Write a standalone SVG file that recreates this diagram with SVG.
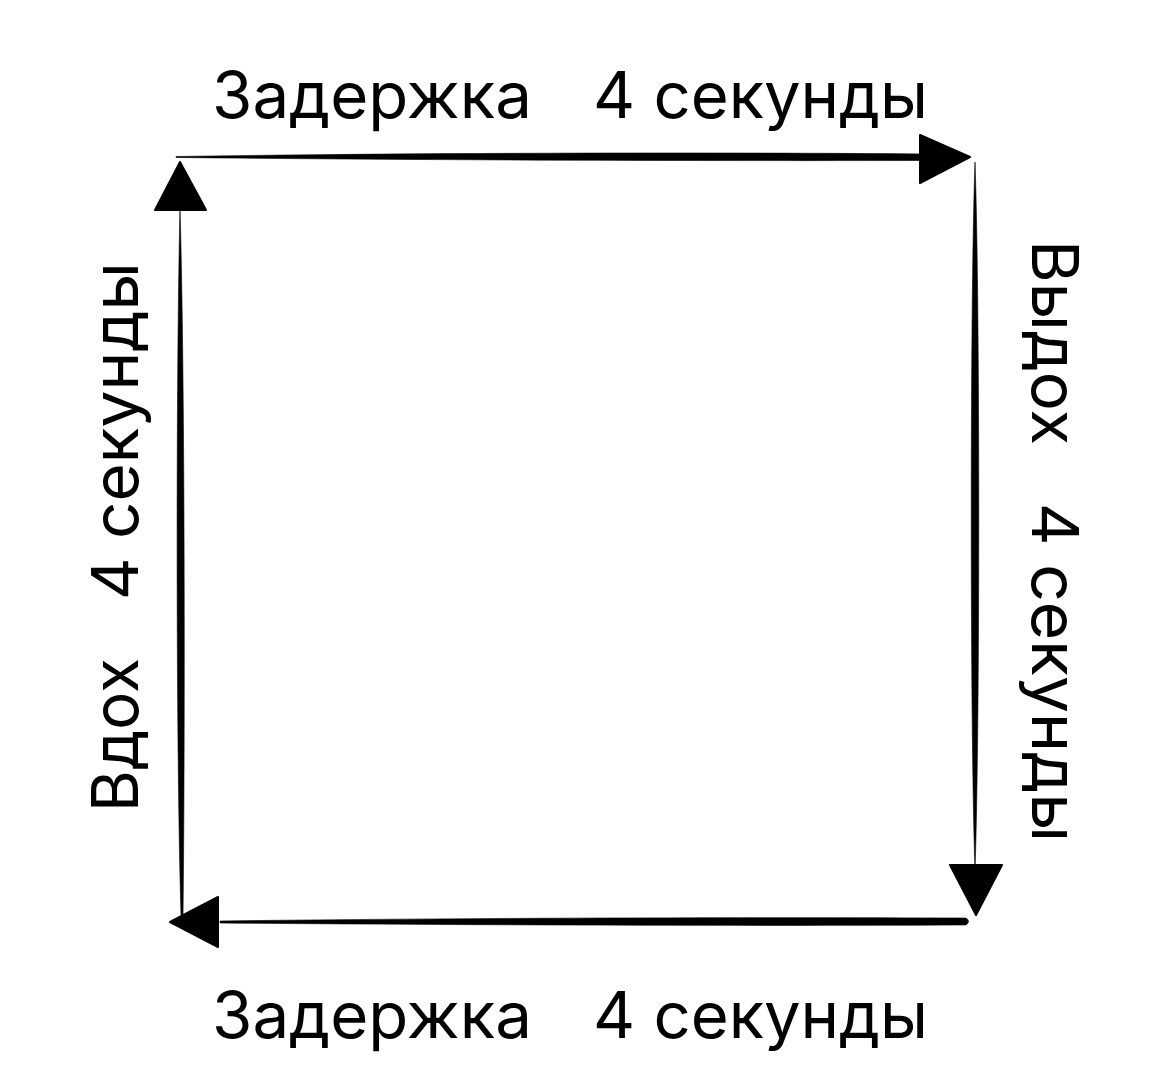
<svg xmlns="http://www.w3.org/2000/svg" width="1170" height="1088" viewBox="0 0 1170 1088">
  <style>
    .stroke { fill: #000; stroke: #000; stroke-width: 0.6; stroke-linejoin: round; }
    .head { fill: #000; stroke: #000; stroke-width: 2; stroke-linejoin: round; }
    .label { font-family: Inter, "Liberation Sans", "Noto Sans", sans-serif; font-size: 64px; fill: #000; }
  </style>
  <rect x="0" y="0" width="1170" height="1088" fill="#fff"/>
  <g id="connectors">
    <g id="edge-top">
      <path class="stroke" d="M176,156.5 C400,153 700,152 925,154 L925,160.5 C700,161 400,160 176,157.5 Z"/>
      <polygon class="head" points="920,135 970,157 920,183"/>
    </g>
    <g id="edge-right">
      <path class="stroke" d="M975,162 C970,300 970,730 975,870 C980,730 980,300 975,162 Z"/>
      <polygon class="head" points="950,865 1002,865 976,915"/>
    </g>
    <g id="edge-bottom">
      <path class="stroke" d="M220,921 C450,918 750,917 966,918 Q971,921.5 966,925 C750,926 450,925 220,923 Z"/>
      <polygon class="head" points="170,922 218,897 218,947"/>
    </g>
    <g id="edge-left">
      <path class="stroke" d="M181,915 C176,750 176,380 180,208 C185,380 185,750 183,915 Z"/>
      <polygon class="head" points="180,162 155,210 206,210"/>
    </g>
  </g>
  <g id="label-top">
    <text class="label" x="212" y="118"><tspan textLength="320" lengthAdjust="spacingAndGlyphs">Задержка</tspan> <tspan x="593" textLength="335" lengthAdjust="spacingAndGlyphs">4 секунды</tspan></text>
  </g>
  <g id="label-right">
    <text class="label" transform="translate(1032,240) rotate(90)" x="0" y="0"><tspan textLength="205" lengthAdjust="spacingAndGlyphs">Выдох</tspan> <tspan x="263" textLength="339" lengthAdjust="spacingAndGlyphs">4 секунды</tspan></text>
  </g>
  <g id="label-bottom">
    <text class="label" x="212" y="1038"><tspan textLength="320" lengthAdjust="spacingAndGlyphs">Задержка</tspan> <tspan x="593" textLength="335" lengthAdjust="spacingAndGlyphs">4 секунды</tspan></text>
  </g>
  <g id="label-left">
    <text class="label" transform="translate(138,812) rotate(-90)" x="0" y="0"><tspan textLength="154" lengthAdjust="spacingAndGlyphs">Вдох</tspan> <tspan x="212" textLength="338" lengthAdjust="spacingAndGlyphs">4 секунды</tspan></text>
  </g>
</svg>
